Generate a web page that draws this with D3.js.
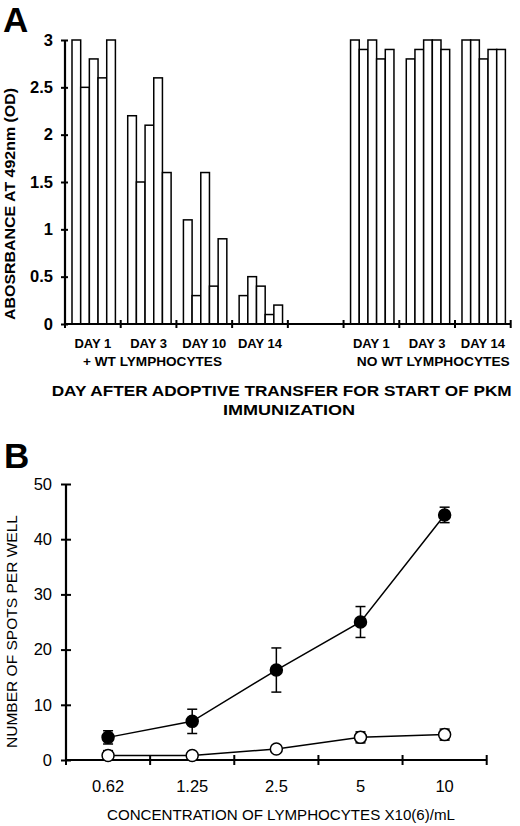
<!DOCTYPE html>
<html>
<head>
<meta charset="utf-8">
<script src="https://cdn.jsdelivr.net/npm/d3@7"></script>
<style>
  body { margin: 0; background: #fff; }
  svg text { font-family: "Liberation Sans", Arial, sans-serif; fill: #000; }
</style>
</head>
<body>
<div id="chart"></div>
<script>
// panel A: absorbance, 5 mice per group
const groupLabels = ["DAY 1", "DAY 3", "DAY 10", "DAY 14", "", "DAY 1", "DAY 3", "DAY 14"];
const wtDay1 = [3.0, 2.5, 2.8, 2.6, 3.0];
const wtDay3 = [2.2, 1.5, 2.1, 2.6, 1.6];
const wtDay10 = [1.1, 0.3, 1.6, 0.4, 0.9];
const wtDay14 = [0.3, 0.5, 0.4, 0.1, 0.2];
const noWtDay1 = [3.0, 2.9, 3.0, 2.8, 2.9];
const noWtDay3 = [2.8, 2.9, 3.0, 3.0, 2.9];
const noWtDay14 = [3.0, 3.0, 2.8, 2.9, 2.9];
const groupValues = [wtDay1, wtDay3, wtDay10, wtDay14, [], noWtDay1, noWtDay3, noWtDay14];
const odTicks = [0, 0.5, 1, 1.5, 2, 2.5, 3];

// panel B: ELISPOT
const concLabels = ["0.62", "1.25", "2.5", "5", "10"];
const filledMean = [4.1, 7.0, 16.3, 25.0, 44.4];
const filledErr = [1.2, 2.2, 4.0, 2.8, 1.4];
const openMean = [0.8, 0.8, 2.0, 4.1, 4.6];
const openErr = [0.9, 0.3, 0.3, 1.0, 1.0];
const spotTicks = [0, 10, 20, 30, 40, 50];

(function() {
    const width = 520, height = 826;

    const svg = d3.select("#chart")
        .append("svg")
        .attr("width", width)
        .attr("height", height);

    // ---------- Panel A ----------
    const gA = svg.append("g");

    const xA = d3.scaleBand()
        .domain(d3.range(groupLabels.length))
        .range([65, 510.7]);

    const xSub = d3.scaleBand()
        .domain(d3.range(5))
        .range([7, 50.4]);

    const yA = d3.scaleLinear()
        .domain([0, 3])
        .range([324, 40]);

    groupValues.forEach((vals, gi) => {
        gA.append("g")
            .selectAll("rect")
            .data(vals)
            .join("rect")
            .attr("x", (d, i) => xA(gi) + xSub(i))
            .attr("y", d => yA(d))
            .attr("width", xSub.bandwidth())
            .attr("height", d => yA(0) - yA(d))
            .attr("fill", "#fff")
            .attr("stroke", "#000")
            .attr("stroke-width", 1.5);
    });

    // x axis A with crossing ticks at band boundaries
    const boundsA = d3.range(groupLabels.length + 1).map(i => 65 + i * xA.step());
    gA.append("line")
        .attr("x1", xA.range()[0]).attr("x2", xA.range()[1])
        .attr("y1", yA(0)).attr("y2", yA(0))
        .attr("stroke", "#000").attr("stroke-width", 2.2);
    gA.append("g").selectAll("line")
        .data(boundsA)
        .join("line")
        .attr("x1", d => d).attr("x2", d => d)
        .attr("y1", yA(0) - 4).attr("y2", yA(0) + 4)
        .attr("stroke", "#000").attr("stroke-width", 2);

    gA.append("g").selectAll("text")
        .data(groupLabels)
        .join("text")
        .attr("x", (d, i) => xA(i) + xA.bandwidth() / 2)
        .attr("y", 348)
        .attr("text-anchor", "middle")
        .attr("font-weight", "bold")
        .attr("font-size", 13)
        .text(d => d);

    // y axis A
    const axisA = d3.axisLeft(yA).tickValues(odTicks).tickSize(4).tickPadding(8)
        .tickFormat(d3.format("~g"));
    const yAxisA = gA.append("g")
        .attr("transform", "translate(65,0)")
        .call(axisA);
    yAxisA.select(".domain").attr("stroke-width", 2.2).attr("d", `M0,${yA(3)}V${yA(0)}`);
    yAxisA.selectAll(".tick line").attr("x2", -4).attr("x1", 3).attr("stroke-width", 2);
    yAxisA.selectAll(".tick text")
        .attr("font-family", "Liberation Sans, Arial, sans-serif")
        .attr("font-size", 16.5)
        .attr("font-weight", "bold")
        .attr("fill", "#000");

    gA.append("text")
        .attr("transform", "translate(15,204) rotate(-90)")
        .attr("text-anchor", "middle")
        .attr("font-weight", "bold")
        .attr("font-size", 15)
        .attr("textLength", 232)
        .attr("lengthAdjust", "spacingAndGlyphs")
        .text("ABOSRBANCE AT 492nm (OD)");

    gA.append("text")
        .attr("x", 152.5).attr("y", 366)
        .attr("text-anchor", "middle")
        .attr("font-weight", "bold").attr("font-size", 13)
        .attr("textLength", 139).attr("lengthAdjust", "spacingAndGlyphs")
        .text("+ WT LYMPHOCYTES");

    gA.append("text")
        .attr("x", 433.3).attr("y", 366)
        .attr("text-anchor", "middle")
        .attr("font-weight", "bold").attr("font-size", 13)
        .attr("textLength", 153).attr("lengthAdjust", "spacingAndGlyphs")
        .text("NO WT LYMPHOCYTES");

    gA.append("text")
        .attr("x", 281.7).attr("y", 396)
        .attr("text-anchor", "middle")
        .attr("font-weight", "bold").attr("font-size", 15)
        .attr("textLength", 460).attr("lengthAdjust", "spacingAndGlyphs")
        .text("DAY AFTER ADOPTIVE TRANSFER FOR START OF PKM");

    gA.append("text")
        .attr("x", 289).attr("y", 414.5)
        .attr("text-anchor", "middle")
        .attr("font-weight", "bold").attr("font-size", 15)
        .attr("textLength", 132).attr("lengthAdjust", "spacingAndGlyphs")
        .text("IMMUNIZATION");

    gA.append("text")
        .attr("x", 3).attr("y", 32)
        .attr("font-weight", "bold").attr("font-size", 35)
        .text("A");

    // ---------- Panel B ----------
    const gB = svg.append("g");

    const xB = d3.scaleBand()
        .domain(concLabels)
        .range([66, 486.7]);

    const yB = d3.scaleLinear()
        .domain([0, 50])
        .range([760, 484]);

    const cx = d => xB(d) + xB.bandwidth() / 2;

    // x axis B
    const boundsB = d3.range(concLabels.length + 1).map(i => 66 + i * xB.step());
    gB.append("line")
        .attr("x1", xB.range()[0]).attr("x2", xB.range()[1])
        .attr("y1", yB(0)).attr("y2", yB(0))
        .attr("stroke", "#000").attr("stroke-width", 2.2);
    gB.append("g").selectAll("line")
        .data(boundsB)
        .join("line")
        .attr("x1", d => d).attr("x2", d => d)
        .attr("y1", yB(0) - 5).attr("y2", yB(0) + 5)
        .attr("stroke", "#000").attr("stroke-width", 2);

    gB.append("g").selectAll("text")
        .data(concLabels)
        .join("text")
        .attr("x", d => cx(d))
        .attr("y", 792)
        .attr("text-anchor", "middle")
        .attr("font-size", 16.5)
        .text(d => d);

    // y axis B
    const axisB = d3.axisLeft(yB).tickValues(spotTicks).tickSize(5).tickPadding(9);
    const yAxisB = gB.append("g")
        .attr("transform", "translate(66,0)")
        .call(axisB);
    yAxisB.select(".domain").attr("stroke-width", 2.2).attr("d", `M0,${yB(50)}V${yB(0)}`);
    yAxisB.selectAll(".tick line").attr("x2", -5).attr("x1", 5).attr("stroke-width", 2);
    yAxisB.selectAll(".tick text")
        .attr("font-family", "Liberation Sans, Arial, sans-serif")
        .attr("font-size", 16.5)
        .attr("fill", "#000");

    gB.append("text")
        .attr("transform", "translate(17,631.5) rotate(-90)")
        .attr("text-anchor", "middle")
        .attr("font-size", 15)
        .attr("textLength", 233)
        .attr("lengthAdjust", "spacingAndGlyphs")
        .text("NUMBER OF SPOTS PER WELL");

    gB.append("text")
        .attr("x", 281).attr("y", 820)
        .attr("text-anchor", "middle")
        .attr("font-size", 15.5)
        .attr("textLength", 348).attr("lengthAdjust", "spacingAndGlyphs")
        .text("CONCENTRATION OF LYMPHOCYTES X10(6)/mL");

    gB.append("text")
        .attr("x", 4).attr("y", 468)
        .attr("font-weight", "bold").attr("font-size", 35)
        .text("B");

    const line = d3.line()
        .x(d => cx(d.c))
        .y(d => yB(d.v));

    function drawSeries(means, errs, filled) {
        const pts = concLabels.map((c, i) => ({ c: c, v: means[i], e: errs[i] }));
        const s = gB.append("g");

        s.append("path")
            .datum(pts)
            .attr("d", line)
            .attr("fill", "none")
            .attr("stroke", "#000")
            .attr("stroke-width", 1.5);

        const eb = s.append("g").selectAll("g")
            .data(pts)
            .join("g")
            .attr("stroke", "#000")
            .attr("stroke-width", 1.5);
        eb.append("line")
            .attr("x1", d => cx(d.c)).attr("x2", d => cx(d.c))
            .attr("y1", d => yB(d.v + d.e)).attr("y2", d => yB(Math.max(0, d.v - d.e)));
        eb.append("line")
            .attr("x1", d => cx(d.c) - 5).attr("x2", d => cx(d.c) + 5)
            .attr("y1", d => yB(d.v + d.e)).attr("y2", d => yB(d.v + d.e));
        eb.append("line")
            .attr("x1", d => cx(d.c) - 5).attr("x2", d => cx(d.c) + 5)
            .attr("y1", d => yB(Math.max(0, d.v - d.e))).attr("y2", d => yB(Math.max(0, d.v - d.e)));

        s.append("g").selectAll("circle")
            .data(pts)
            .join("circle")
            .attr("cx", d => cx(d.c))
            .attr("cy", d => yB(d.v))
            .attr("r", 6)
            .attr("fill", filled ? "#000" : "#fff")
            .attr("stroke", "#000")
            .attr("stroke-width", 1.5);
    }

    drawSeries(openMean, openErr, false);
    drawSeries(filledMean, filledErr, true);
})();
</script>
</body>
</html>
